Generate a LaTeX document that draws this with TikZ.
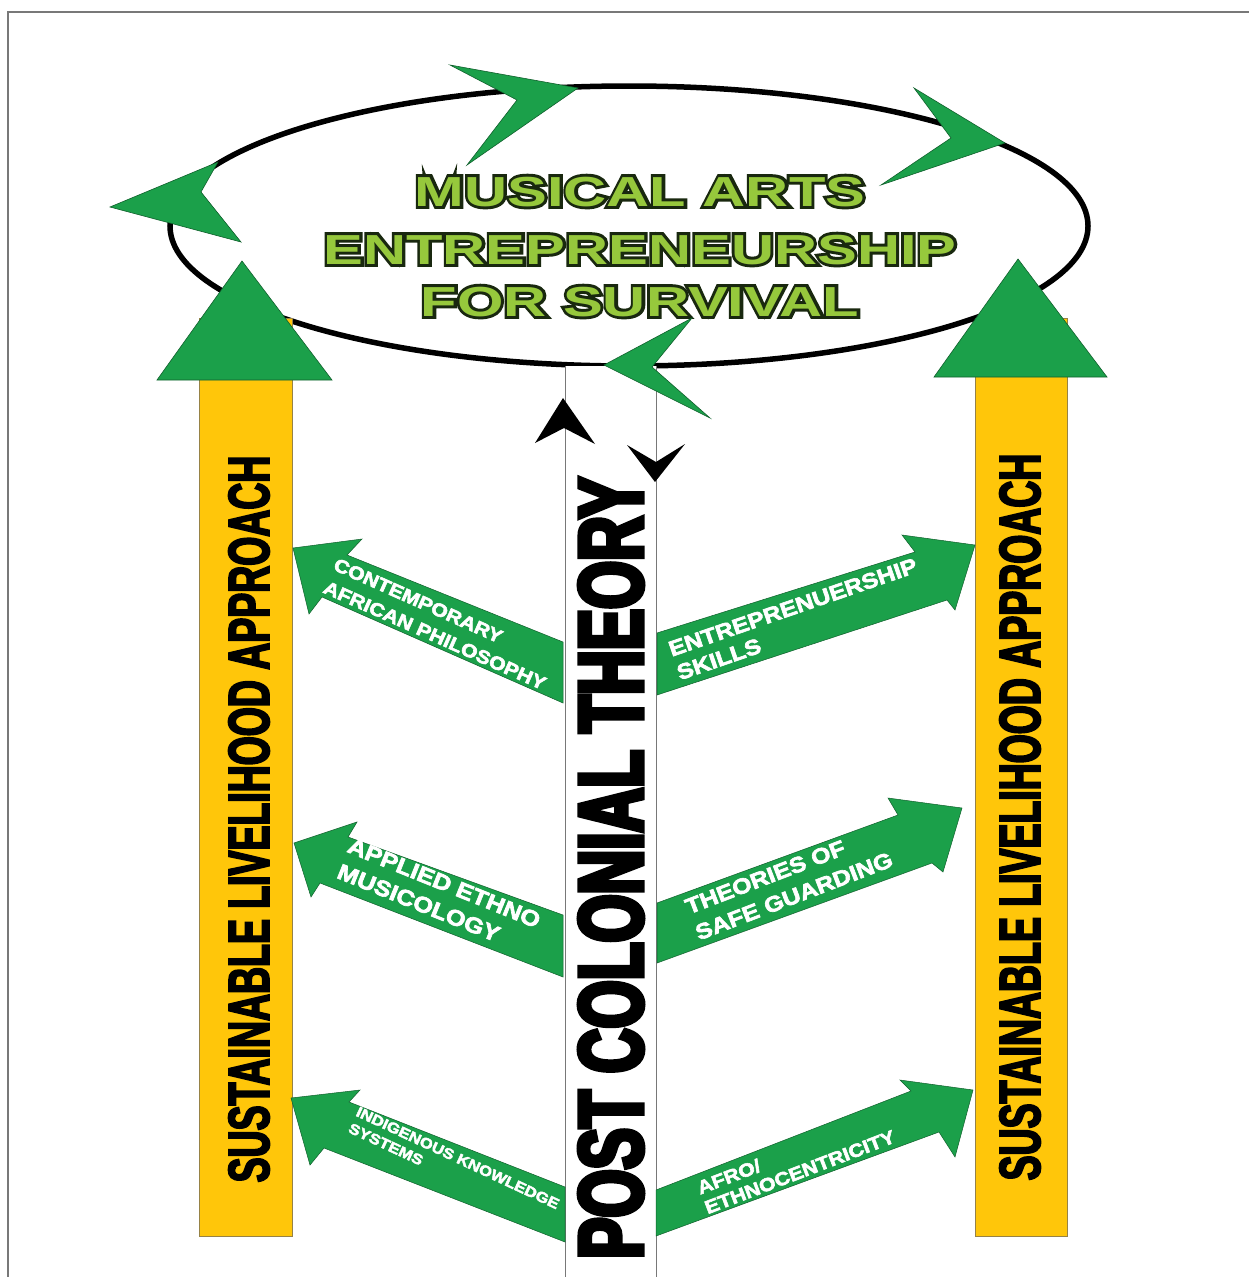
\documentclass[tikz,border=0pt]{standalone}
\usepackage{fontspec}
\setmainfont{Liberation Sans}
\newfontfamily\titlefont[FakeStretch=1.42]{Liberation Sans}
\newfontfamily\titleedgefont[FakeStretch=1.42,FakeBold=14]{Liberation Sans}
\newfontfamily\barfont[FakeStretch=0.645,FakeBold=3]{Liberation Sans}
\newfontfamily\postfont[FakeStretch=0.68,FakeBold=5]{Liberation Sans}
\newfontfamily\armfont[FakeStretch=1.15,FakeBold=3]{Liberation Sans}

\definecolor{leafgreen}{RGB}{27,160,74}
\definecolor{limegreen}{RGB}{150,200,60}
\definecolor{titleedge}{RGB}{25,40,15}
\definecolor{baryellow}{RGB}{255,198,10}
\definecolor{barline}{RGB}{150,130,70}
\definecolor{framegray}{RGB}{120,120,120}

\tikzset{
  dart/.style={fill=leafgreen,draw=leafgreen!60!black,line width=0.6pt},
  bar/.style={fill=baryellow,draw=barline,line width=1pt},
  blockarrow/.style={fill=leafgreen,draw=leafgreen!60!black,line width=0.5pt},
  titleshadow/.style={font=\titleedgefont\bfseries\fontsize{42}{42}\selectfont,text=titleedge,inner sep=0pt,anchor=base},
  titletext/.style={font=\titlefont\bfseries\fontsize{42}{42}\selectfont,text=limegreen,inner sep=0pt,anchor=base},
  barlabel/.style={font=\barfont\bfseries\fontsize{58}{58}\selectfont,inner sep=0pt,rotate=90},
  armlabel/.style={text=white,align=left,inner sep=0pt},
}

\begin{document}
\begin{tikzpicture}[x=1pt,y=-1pt]
\useasboundingbox (0,0) rectangle (1249,1277);
\fill[white] (0,0) rectangle (1249,1277);
\draw[framegray,line width=1.5pt] (8,1277) -- (8,12) -- (1249,12);

% the goal ellipse
\draw[fill=white,line width=5.5pt] (629,226) ellipse [x radius=459,y radius=140];

% yellow pillars with their heads
\draw[bar] (199,318) rectangle (292,1236);
\draw[bar] (975,318) rectangle (1067,1236);
\draw[dart] (242,261) -- (332,380) -- (157,380) -- cycle;
\draw[dart] (1018,259) -- (1107,377) -- (934,377) -- cycle;

% outlined title: dark heavy layer under the lime one
\node[titleshadow] (edge1) at (640,206) {MUSICAL ARTS};
\node[titleshadow] (edge2) at (640,264) {ENTREPRENEURSHIP};
\node[titleshadow] (edge3) at (640,316) {FOR SURVIVAL};
\node[titletext] (title1) at (640,206) {MUSICAL ARTS};
\node[titletext] (title2) at (640,264) {ENTREPRENEURSHIP};
\node[titletext] (title3) at (640,316) {FOR SURVIVAL};

% central column
\fill[white] (565,366) rectangle (656,1277);
\draw[framegray,line width=1pt] (565,1277) -- (565,366);
\draw[framegray,line width=1pt] (656,366) -- (656,1277);
\fill (535,443) -- (563,398) -- (595,444) -- (564,428) -- cycle;
\fill (627,445) -- (655,482) -- (685,444) -- (656,462) -- cycle;
\node[font=\postfont\bfseries\fontsize{91}{91}\selectfont,inner sep=0pt,rotate=90] (theory) at (611,868) {POST COLONIAL THEORY};

% darts running round the ellipse
\draw[dart] (218,162) -- (110,207) -- (241,242) -- (201,192) -- cycle;
\draw[dart] (450,65) -- (578,88) -- (467,165) -- (517,100) -- cycle;
\draw[dart] (914,88) -- (1005,143) -- (881,185) -- (951,138) -- cycle;
\draw[dart] (692,318) -- (604,365) -- (710,418) -- (652,367) -- cycle;

% arms to the left pillar
\draw[blockarrow] (563,642) -- (347,555) -- (362,539) -- (293,548) -- (309,614) -- (322,597) -- (563,703) -- cycle;
\draw[blockarrow] (563,915) -- (348,837) -- (357,822) -- (294,843) -- (311,897) -- (320,883) -- (563,977) -- cycle;
\draw[blockarrow] (565,1187) -- (349,1102) -- (360,1090) -- (291,1098) -- (310,1165) -- (324,1148) -- (565,1242) -- cycle;
\node[armlabel,rotate=-24,font=\armfont\bfseries\fontsize{18.5}{25}\selectfont] (philosophy) at (440,624) {CONTEMPORARY\\AFRICAN PHILOSOPHY};
\node[armlabel,rotate=-22,font=\armfont\bfseries\fontsize{22}{28}\selectfont] (ethno) at (439,896) {APPLIED ETHNO\\MUSICOLOGY};
\node[armlabel,rotate=-25,font=\armfont\bfseries\fontsize{14.6}{18}\selectfont] (iks) at (454,1166) {INDIGENOUS KNOWLEDGE\\SYSTEMS};

% arms to the right pillar
\draw[blockarrow] (657,633) -- (915,552) -- (902,535) -- (975,545) -- (955,610) -- (947,600) -- (657,695) -- cycle;
\draw[blockarrow] (657,903) -- (898,815) -- (888,798) -- (962,808) -- (943,872) -- (932,863) -- (657,963) -- cycle;
\draw[blockarrow] (656,1190) -- (911,1091) -- (900,1080) -- (973,1090) -- (955,1157) -- (939,1132) -- (656,1236) -- cycle;
\node[armlabel,rotate=19,font=\armfont\bfseries\fontsize{21.4}{25}\selectfont] (skills) at (797,619) {ENTREPRENUERSHIP\\SKILLS};
\node[armlabel,rotate=21,font=\armfont\bfseries\fontsize{21.7}{28}\selectfont] (safeguard) at (789,883) {THEORIES OF\\SAFE GUARDING};
\node[armlabel,rotate=21,font=\armfont\bfseries\fontsize{18.5}{21}\selectfont] (afro) at (796,1162) {AFRO/\\ETHNOCENTRICITY};

\node[barlabel] (slaleft) at (249,819) {SUSTAINABLE LIVELIHOOD APPROACH};
\node[barlabel] (slaright) at (1020,817) {SUSTAINABLE LIVELIHOOD APPROACH};
\end{tikzpicture}
\end{document}
